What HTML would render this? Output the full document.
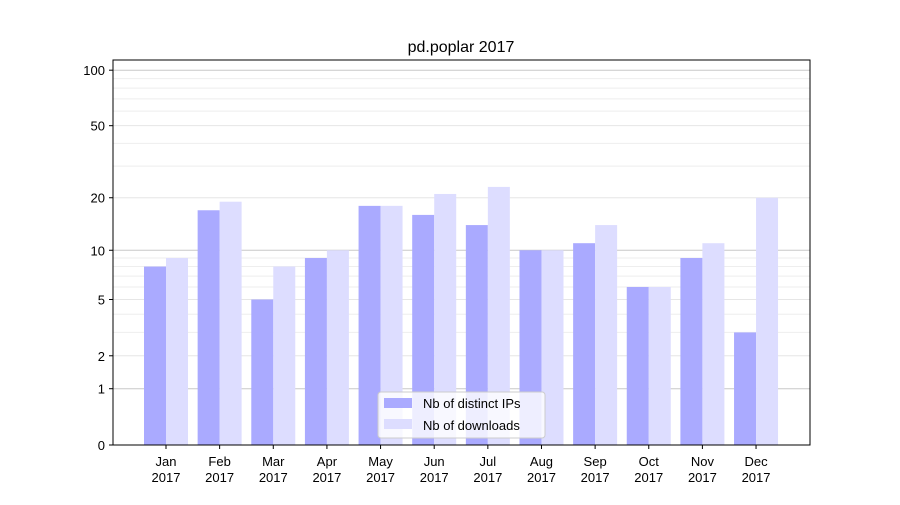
<!DOCTYPE html>
<html><head><meta charset="utf-8"><style>body{margin:0;background:#fff}svg{font-family:"Liberation Sans","DejaVu Sans",sans-serif}</style></head>
<body>
<svg id="c" width="900" height="500"></svg>
<script>
const months=["Jan","Feb","Mar","Apr","May","Jun","Jul","Aug","Sep","Oct","Nov","Dec"];
const ips=[8,17,5,9,18,16,14,10,11,6,9,3];
const downloads=[9,19,8,10,18,21,23,10,14,6,11,20];
const yTicks=[0,1,2,5,10,20,50,100];
const minorTicks=[3,4,6,7,8,9,30,40,60,70,80,90];
const NS="http://www.w3.org/2000/svg";
const svg=document.getElementById('c');
const L=113,R=810,T=60,B=445;
function y(v){return B-187*Math.log10(1+v);}
function x(i){return 166+i*53.64;}
function el(t,a,p){const e=document.createElementNS(NS,t);for(const k in a)e.setAttribute(k,a[k]);(p||svg).appendChild(e);return e;}
minorTicks.forEach(v=>{const l=el('line',{x1:L,x2:R,y1:y(v),y2:y(v),stroke:'#eeeeee','stroke-width':1});

});
yTicks.forEach(v=>{
const g=el('line',{x1:L,x2:R,y1:y(v),y2:y(v),stroke:(v===1||v===10||v===100)?'#c8c8c8':'#e6e6e6','stroke-width':1});


el('line',{x1:L-4,x2:L,y1:y(v),y2:y(v),stroke:'#000'});
const t=el('text',{x:L-8,y:y(v)+5,'text-anchor':'end','font-size':13});t.textContent=v;


});
months.forEach((m,i)=>{
const b1=el('rect',{x:x(i)-22,y:y(ips[i]),width:22,height:B-y(ips[i]),fill:'#aaaaff'});


const b2=el('rect',{x:x(i),y:y(downloads[i]),width:22,height:B-y(downloads[i]),fill:'#ddddff'});


el('line',{x1:x(i),x2:x(i),y1:B,y2:B+4,stroke:'#000'});
const t=el('text',{x:x(i),y:B+21,'text-anchor':'middle','font-size':13});t.textContent=m;


const t2=el('text',{x:x(i),y:B+37,'text-anchor':'middle','font-size':13});t2.textContent='2017';


});
const f=el('rect',{x:L,y:T,width:R-L,height:B-T,fill:'none',stroke:'#000','stroke-width':1});


const ti=el('text',{x:461,y:52,'text-anchor':'middle','font-size':16});ti.textContent='pd.poplar 2017';


const lg=el('g',{});


el('rect',{x:378,y:392,width:167,height:46,fill:'#fff','fill-opacity':0.8,stroke:'#ccc',rx:3},lg);
el('rect',{x:384,y:398,width:28,height:10,fill:'#aaaaff'},lg);
el('rect',{x:384,y:419,width:28,height:10,fill:'#ddddff'},lg);
const l1=el('text',{x:423,y:408,'font-size':13},lg);l1.textContent='Nb of distinct IPs';
const l2=el('text',{x:423,y:430,'font-size':13},lg);l2.textContent='Nb of downloads';
</script>
</body></html>
